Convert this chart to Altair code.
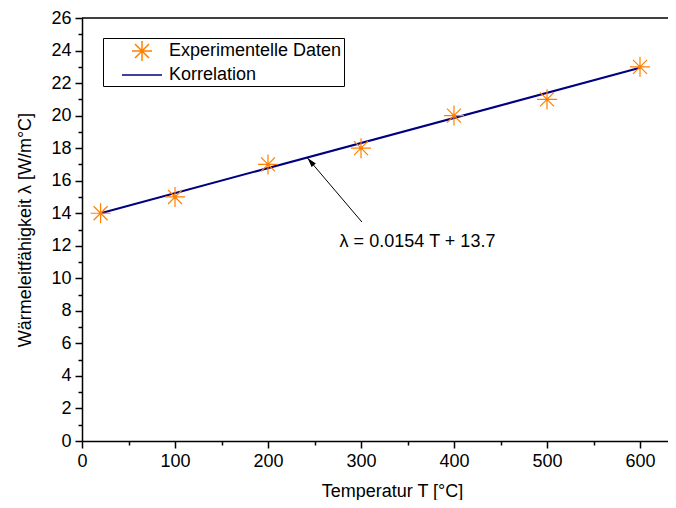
import altair as alt
import pandas as pd

# ---- data ----
temps = [20, 100, 200, 300, 400, 500, 600]
lam_exp = [14, 15, 17, 18, 20, 21, 23]
fit_T = [20, 600]
fit_lam = [14.0, 22.94]
series = ["Experimentelle Daten", "Korrelation"]
colors = ["#FF8000", "#000080"]
annot_text = ["λ = 0.0154 T + 13.7"]
annot_T = [277]
annot_lam = [12.25]
arrow_tail = [301, 13.46]
arrow_head = [242.5, 17.39]
x_ticks = list(range(0, 601, 50))
y_ticks = list(range(0, 27, 1))
x_max = 630.1

FONT = "Liberation Sans"
STAR = "M-1,0L1,0M0,-1L0,1M-0.7,-0.7L0.7,0.7M-0.7,0.7L0.7,-0.7"
LINE = "M-2,0L2,0"
HEAD = "M0,0L-0.28,0.95L0.28,0.95Z"
W, H = 586, 423

pts = pd.DataFrame({"T": temps, "lam": lam_exp, "series": series[0]})
fit = pd.DataFrame({"T": fit_T, "lam": fit_lam, "series": series[1]})
ann = pd.DataFrame({"T": annot_T, "lam": annot_lam, "txt": annot_text})
arr = pd.DataFrame({"T": [arrow_tail[0]], "lam": [arrow_tail[1]],
                    "T2": [arrow_head[0]], "lam2": [arrow_head[1]]})
head = pd.DataFrame({"T": [arrow_head[0]], "lam": [arrow_head[1]]})

xscale = alt.Scale(domain=[0, x_max], nice=False, zero=False)
yscale = alt.Scale(domain=[0, 26], nice=False, zero=False)

LEG = dict(title=None, orient="none", legendX=21, legendY=20,
           strokeColor="black", fillColor="white", padding=2,
           symbolOffset=26, labelOffset=16, rowPadding=-2,
           labelFontSize=18, labelFont=FONT, labelColor="black",
           labelLimit=500, symbolSize=400, symbolStrokeWidth=1.5,
           labelExpr="datum.label + '\u2003'")

color = alt.Color("series:N", scale=alt.Scale(domain=series, range=colors),
                  legend=alt.Legend(**LEG))
shape = alt.Shape("series:N", scale=alt.Scale(domain=series, range=[STAR, LINE]),
                  legend=alt.Legend(**LEG))

x_axis = alt.Axis(values=x_ticks, labelExpr="datum.value % 100 === 0 ? datum.label : ''",
                  tickSize={"condition": {"test": "datum.value % 100 === 0", "value": 7}, "value": 4},
                  title="Temperatur T [°C]", titleX=310, titlePadding=12, labelPadding=4,
                  labelOverlap=False, labelFlush=False, grid=False)
y_axis = alt.Axis(values=y_ticks, labelExpr="datum.value % 2 === 0 ? datum.label : ''",
                  tickSize={"condition": {"test": "datum.value % 2 === 0", "value": 7}, "value": 4},
                  title="Wärmeleitfähigkeit λ [W/m°C]", titlePadding=16, labelPadding=4,
                  labelOverlap=False, labelFlush=False, grid=False)

points = alt.Chart(pts).mark_point(filled=False, size=400, strokeWidth=1.2, opacity=1).encode(
    x=alt.X("T:Q", scale=xscale, axis=x_axis),
    y=alt.Y("lam:Q", scale=yscale, axis=y_axis),
    color=color, shape=shape)

dots = alt.Chart(pts).mark_point(filled=True, size=10, color=colors[0], opacity=1).encode(
    x=alt.X("T:Q", scale=xscale, axis=x_axis), y=alt.Y("lam:Q", scale=yscale, axis=y_axis))

line = alt.Chart(fit).mark_line(strokeWidth=2).encode(
    x=alt.X("T:Q", scale=xscale, axis=x_axis), y=alt.Y("lam:Q", scale=yscale, axis=y_axis),
    color=color)

rule = alt.Chart(arr).mark_rule(color="black", strokeWidth=1).encode(
    x=alt.X("T:Q", scale=xscale, axis=x_axis), y=alt.Y("lam:Q", scale=yscale, axis=y_axis),
    x2="T2:Q", y2="lam2:Q")

arrowhead = alt.Chart(head).mark_point(shape=HEAD, size=400, filled=True, color="black",
                                       angle=319.3, opacity=1, strokeWidth=0).encode(
    x=alt.X("T:Q", scale=xscale, axis=x_axis), y=alt.Y("lam:Q", scale=yscale, axis=y_axis))

text = alt.Chart(ann).mark_text(align="left", baseline="middle", fontSize=18, font=FONT,
                                color="black").encode(
    x=alt.X("T:Q", scale=xscale, axis=x_axis), y=alt.Y("lam:Q", scale=yscale, axis=y_axis),
    text="txt:N")

# top frame line of the plot box
frame_top = alt.Chart(head).mark_rule(color="black", strokeWidth=1.5).encode(
    x=alt.value(0), x2=alt.value(W), y=alt.value(0))

chart = alt.layer(line, points, dots, rule, arrowhead, text, frame_top).properties(
    width=W, height=H,
    autosize=alt.AutoSizeParams(type="none"),
    padding={"left": 74, "top": 10, "right": 0, "bottom": 59},
).configure_view(stroke=None).configure_axis(
    labelFont=FONT, labelFontSize=18, labelColor="black",
    titleFont=FONT, titleFontSize=18, titleFontWeight="normal", titleColor="black",
    domainColor="black", domainWidth=1.5, tickColor="black", tickWidth=1.5,
    labelOverlap=False, labelFlush=False,
)

chart.save("out.html", embed_options={"renderer": "svg", "actions": False})
